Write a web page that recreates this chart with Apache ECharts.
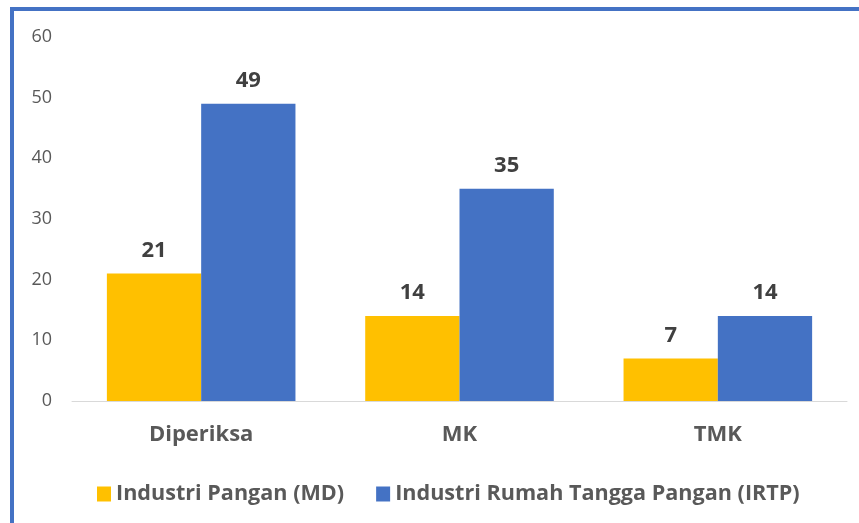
<!DOCTYPE html>
<html>
<head>
<meta charset="utf-8">
<script src="https://cdn.jsdelivr.net/npm/echarts@6/dist/echarts.min.js"></script>
<style>
  html, body { margin: 0; padding: 0; background: #fff; }
  #frame {
    position: absolute; left: 10px; top: 7px;
    width: 900px; height: 560px;
    border: 4px solid #4472C4; box-sizing: border-box;
  }
  #chart { position: absolute; left: 0; top: 0; width: 859px; height: 523px; }
</style>
</head>
<body>
<div id="frame"></div>
<div id="chart"></div>
<script>
// kategori dan data
const categories = ['Diperiksa', 'MK', 'TMK'];
const seriesNames = ['Industri Pangan (MD)', 'Industri Rumah Tangga Pangan (IRTP)'];
const mdValues = [21, 14, 7];
const irtpValues = [49, 35, 14];
const yTicks = [0, 10, 20, 30, 40, 50, 60];

const fontFam = '"Open Sans", "Noto Sans", sans-serif';

var myChart = echarts.init(document.getElementById('chart'));

const labelStyle = {
    show: true,
    position: 'top',
    distance: 12,
    color: '#404040',
    fontWeight: 'bold',
    fontSize: 22,
    fontFamily: fontFam
};

var option = {
    animation: false,
    grid: { left: 72, right: 12, top: 37, bottom: 122, containLabel: false },
    legend: {
        top: 478,
        left: 92,
        itemWidth: 14,
        itemHeight: 15,
        itemGap: 32,
        icon: 'rect',
        textStyle: { color: '#595959', fontSize: 21.6, fontWeight: 'bold', fontFamily: fontFam },
        data: seriesNames
    },
    xAxis: {
        type: 'category',
        data: categories,
        axisLine: { lineStyle: { color: '#D9D9D9', width: 1 } },
        axisTick: { show: false },
        axisLabel: { color: '#595959', fontSize: 22, fontWeight: 'bold', fontFamily: fontFam, margin: 23 }
    },
    yAxis: {
        type: 'value',
        min: yTicks[0],
        max: yTicks[yTicks.length - 1],
        interval: 10,
        splitLine: { show: false },
        axisLine: { show: false },
        axisTick: { show: false },
        axisLabel: { color: '#595959', fontSize: 18, fontFamily: fontFam, margin: 20 }
    },
    series: [
        {
            name: seriesNames[0],
            type: 'bar',
            data: mdValues,
            barGap: '0%',
            barCategoryGap: '27%',
            itemStyle: { color: '#FFC000' },
            label: labelStyle
        },
        {
            name: seriesNames[1],
            type: 'bar',
            data: irtpValues,
            barGap: '0%',
            barCategoryGap: '27%',
            itemStyle: { color: '#4472C4' },
            label: labelStyle
        }
    ]
};

myChart.setOption(option);
</script>
</body>
</html>
